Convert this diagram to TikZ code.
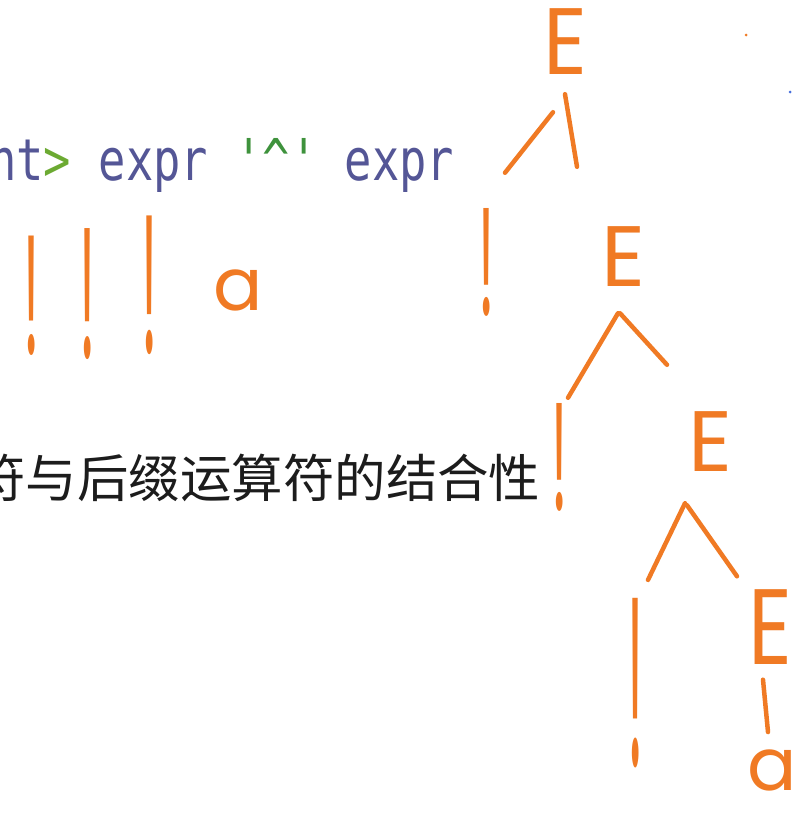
\documentclass[tikz,border=0pt]{standalone}
\usepackage{fontspec}
\usepackage{graphicx}
\newfontfamily\codefont{DejaVu Sans Mono}
\newfontfamily\cjk{Noto Sans CJK SC}
\newfontfamily\handfont{Poppins}
\usetikzlibrary{calc}
\definecolor{ink}{RGB}{240,122,36}
\definecolor{codeblue}{RGB}{84,86,150}
\definecolor{codegreen}{RGB}{62,146,60}
\definecolor{arrowgreen}{RGB}{108,170,50}
\definecolor{textgray}{RGB}{28,28,28}
\definecolor{dotblue}{RGB}{70,110,220}
\tikzset{
  hw/.style     = {text=ink, inner sep=0pt},
  bigE/.style   = {hw, font=\handfont\fontsize{61}{61}\selectfont},
  leaf/.style   = {hw, font=\handfont\fontsize{52}{52}\selectfont},
  bang/.style   = {hw, font=\handfont\fontsize{39}{39}\selectfont},
  stroke/.style = {draw=ink, line width=3.2pt, line cap=round},
  code/.style   = {font=\codefont\fontsize{32.3}{36}\selectfont, inner sep=0pt, anchor=base west},
  prose/.style  = {font=\cjk\fontsize{36.6}{40}\selectfont, text=textgray, inner sep=0pt, anchor=base west},
}
\newcommand{\tall}[2][2.9]{\scalebox{1}[#1]{#2}}

\begin{document}
\begin{tikzpicture}[x=0.025cm, y=-0.025cm]

  \useasboundingbox (0,0) rectangle (810,823);
  \clip (0,0) rectangle (810,823);
  \fill[white] (0,0) rectangle (810,823);

  \node[code] (rule) at (-11,180)
    {\scalebox{1}[1.27]{\color{codeblue}nt{\color{arrowgreen}>} expr {\color{codegreen}\char39\char94\char39} expr}};
  \node[prose] (assoc) at (-26,497) {符与后缀运算符的结合性};

  % tokens under the rule
  \node[bang] (bang1) at (32,296)  {\tall[3.1]{!}};
  \node[bang] (bang2) at (88,294)  {\tall[3.4]{!}};
  \node[bang] (bang3) at (150,285) {\tall[3.6]{!}};
  \node[leaf] (a1)    at (238,290) {a};

  % parse tree
  \node[bigE] (E1)   at (565,42)  {\tall[1.1]{E}};
  \node[bigE] (E2)   at (623,257) {E};
  \node[bigE] (E3)   at (710,442) {E};
  \node[bigE] (E4)   at (770,627) {\tall[1.25]{E}};
  \node[bang] (not1) at (487,262) {\tall[2.8]{!}};
  \node[bang] (not2) at (560,457) {\tall[2.8]{!}};
  \node[bang] (not3) at (636,683) {\tall[4.4]{!}};
  \node[leaf] (a2)   at (772,770) {a};

  \draw[stroke] ($(E1.south)+(-12,37)$) -- ($(not1.north)+(18,-35)$);
  \draw[stroke] ($(E1.south)+(0,19)$)   -- ($(E2.north)+(-46,-60)$);
  \draw[stroke] ($(E2.south)+(-5,26)$)  -- ($(not2.north)+(8,-5)$);
  \draw[stroke] ($(E2.south)+(-3,26)$)  -- ($(E3.north)+(-43,-47)$);
  \draw[stroke] ($(E3.south)+(-25,31)$) -- ($(not3.north)+(12,-18)$);
  \draw[stroke] ($(E3.south)+(-23,33)$) -- ($(E4.north)+(-33,-13)$);
  \draw[stroke] ($(E4.south)+(-7,15)$)  -- ($(a2.north)+(-4,-17)$);

  \fill[ink] (746,35) circle (1.5);
  \fill[dotblue] (790,92) circle (1.5);

\end{tikzpicture}
\end{document}
